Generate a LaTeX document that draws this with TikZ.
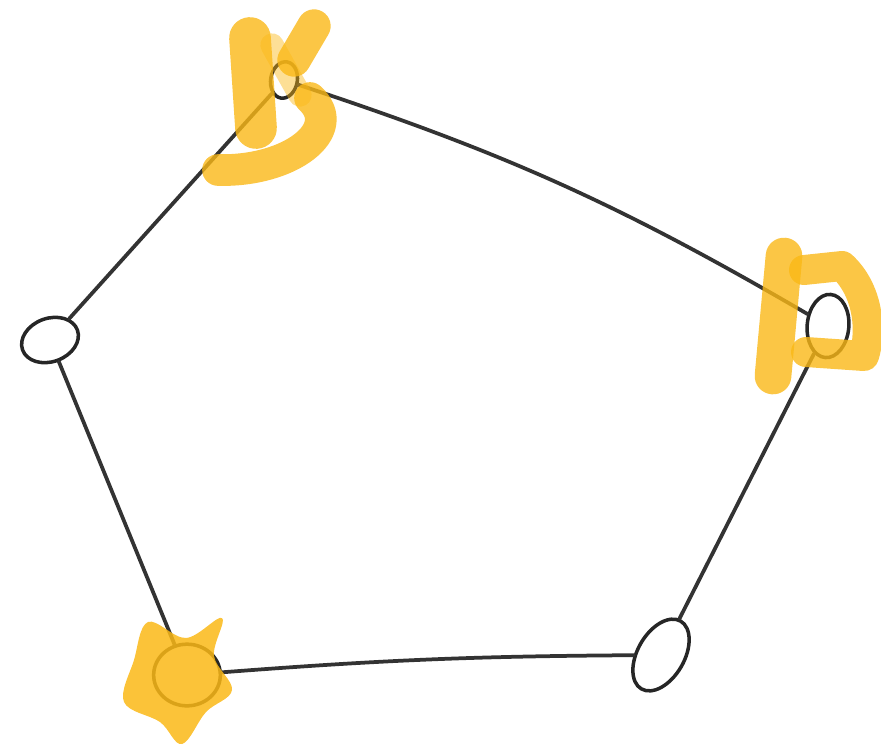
\documentclass[tikz,border=0pt]{standalone}
\usetikzlibrary{shapes.geometric}
\definecolor{marker}{RGB}{250,184,22}
\begin{document}
\begin{tikzpicture}[x=0.03cm, y=-0.03cm,
    vtx/.style={ellipse, draw=black!85, line width=3pt, inner sep=0pt},
    edge/.style={draw=black!80, line width=3.2pt, line cap=round},
    hl/.style={draw=marker, line width=1.1cm, line cap=round, line join=round, opacity=0.8}]
  \useasboundingbox (0,0) rectangle (881,752);
  % Vertices (hand-drawn loops)
  \node[vtx, minimum width=0.8cm, minimum height=1.1cm, rotate=-10] (top) at (284,80) {};
  \node[vtx, minimum width=1.25cm, minimum height=1.9cm, rotate=-5] (right) at (828,326) {};
  \node[vtx, minimum width=1.4cm, minimum height=2.35cm, rotate=-30] (botr) at (661,655) {};
  \node[vtx, minimum width=2.0cm, minimum height=1.85cm] (botl) at (187,675) {};
  \node[vtx, minimum width=1.75cm, minimum height=1.3cm, rotate=20] (left) at (50,340) {};
  % Edges of the pentagon
  \draw[edge] (top) to[bend left=6] (right);
  \draw[edge] (right) -- (botr);
  \draw[edge] (botr) to[bend right=2] (botl);
  \draw[edge] (botl) -- (left);
  \draw[edge] (left) -- (top);
  % Marker highlights on top
  \draw[hl, line width=1.25cm] (250,38) -- (256,128);
  \draw[hl, line width=1.0cm] (314,26) -- (294,60);
  \draw[hl, line width=0.7cm, opacity=0.45] (272,45) -- (300,95);
  \draw[hl, line width=0.95cm] (310,98) .. controls (345,130) and (290,172) .. (218,170);
  \draw[hl] (784,256) -- (773,376);
  \draw[hl, line width=0.9cm] (804,270) -- (842,266) .. controls (868,290) and (872,330) .. (864,356) -- (806,352);
  % Marker highlight bottom left
  \fill[marker, opacity=0.85] plot[smooth cycle, tension=0.6] coordinates
    {(148,622) (186,638) (222,618) (214,656) (232,690) (206,712) (182,744) (160,722) (124,702) (134,660)};
\end{tikzpicture}
\end{document}
